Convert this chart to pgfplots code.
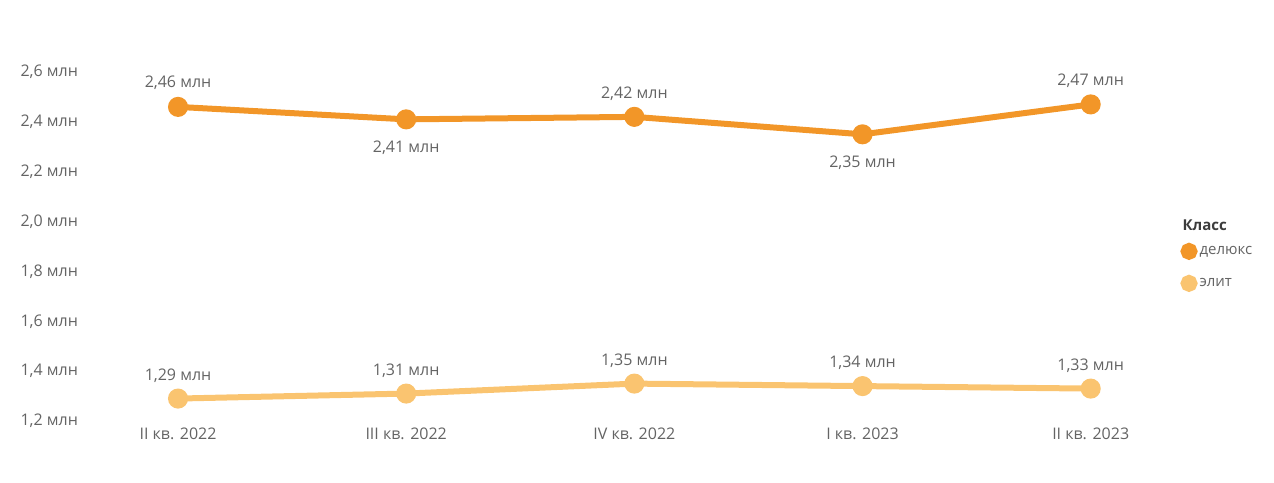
\documentclass[border=0pt]{standalone}
\usepackage{pgfplots}
\pgfplotsset{compat=1.18}
\usepackage{pgfplotstable}
\usepackage{fontspec}
\setmainfont{Open Sans}

\definecolor{deluxe}{RGB}{242,150,40}
\definecolor{elite}{RGB}{250,196,112}
\definecolor{txt}{RGB}{100,100,100}
\definecolor{ttl}{RGB}{60,60,60}

% x, value, label offset (pt)
\pgfplotstableread{
x y dy
0 2.46 24
1 2.41 -28
2 2.42 23
3 2.35 -28
4 2.47 24
}\deluxedata
\pgfplotstableread{
x y dy
0 1.29 23
1 1.31 23
2 1.35 23
3 1.34 23
4 1.33 23
}\elitedata

\begin{document}
\begin{tikzpicture}
\useasboundingbox (0,0) rectangle (1274pt,482pt);
\begin{axis}[
    at={(100pt,61pt)}, anchor=south west,
    scale only axis,
    width=1050pt, height=349pt,
    xmin=-0.342, xmax=4.26,
    ymin=1.2, ymax=2.6,
    axis line style={draw=none},
    clip=false,
    font=\fontsize{16}{19}\selectfont\color{txt},
    xtick={0,1,2,3,4},
    xticklabels={II кв. 2022, III кв. 2022, IV кв. 2022, I кв. 2023, II кв. 2023},
    ytick={1.2,1.4,...,2.6},
    yticklabel={\pgfmathprintnumber[use comma,fixed,fixed zerofill,precision=1]{\tick}~млн},
    yticklabel style={anchor=west, xshift=-83pt},
    xticklabel style={yshift=-3pt},
    /pgf/number format/assume math mode=true,
    tick style={draw=none},
    point meta=y,
    nodes near coords={\pgfmathprintnumber[use comma,fixed,fixed zerofill,precision=2]{\pgfplotspointmeta}~млн},
    visualization depends on={\thisrow{dy} \as \dy},
    nodes near coords style={anchor=center, yshift=\dy pt, font=\fontsize{16}{19}\selectfont, text=txt},
    legend style={at={(axis description cs:1.026,0.607)}, anchor=north west,
        draw=none, fill=none, font=\fontsize{15}{18}\selectfont, text=txt,
        row sep=15pt, cells={anchor=west}},
    legend cell align=left,
]
\addlegendimage{empty legend}
\addlegendentry{\hspace{-17pt}\raisebox{-6pt}[11pt][3pt]{\textcolor{ttl}{\textbf{Класс}}}}

\addplot[color=deluxe, line width=6pt, mark=*, mark size=7pt,
    legend image code/.code={\fill[deluxe] (-1.5pt,0pt) circle (5.5pt);}]
    table[x=x, y=y] {\deluxedata};
\addlegendentry{делюкс}

\addplot[color=elite, line width=6pt, mark=*, mark size=7pt,
    legend image code/.code={\fill[elite] (-1.5pt,0pt) circle (5.5pt);}]
    table[x=x, y=y] {\elitedata};
\addlegendentry{элит}
\end{axis}
\end{tikzpicture}
\end{document}
